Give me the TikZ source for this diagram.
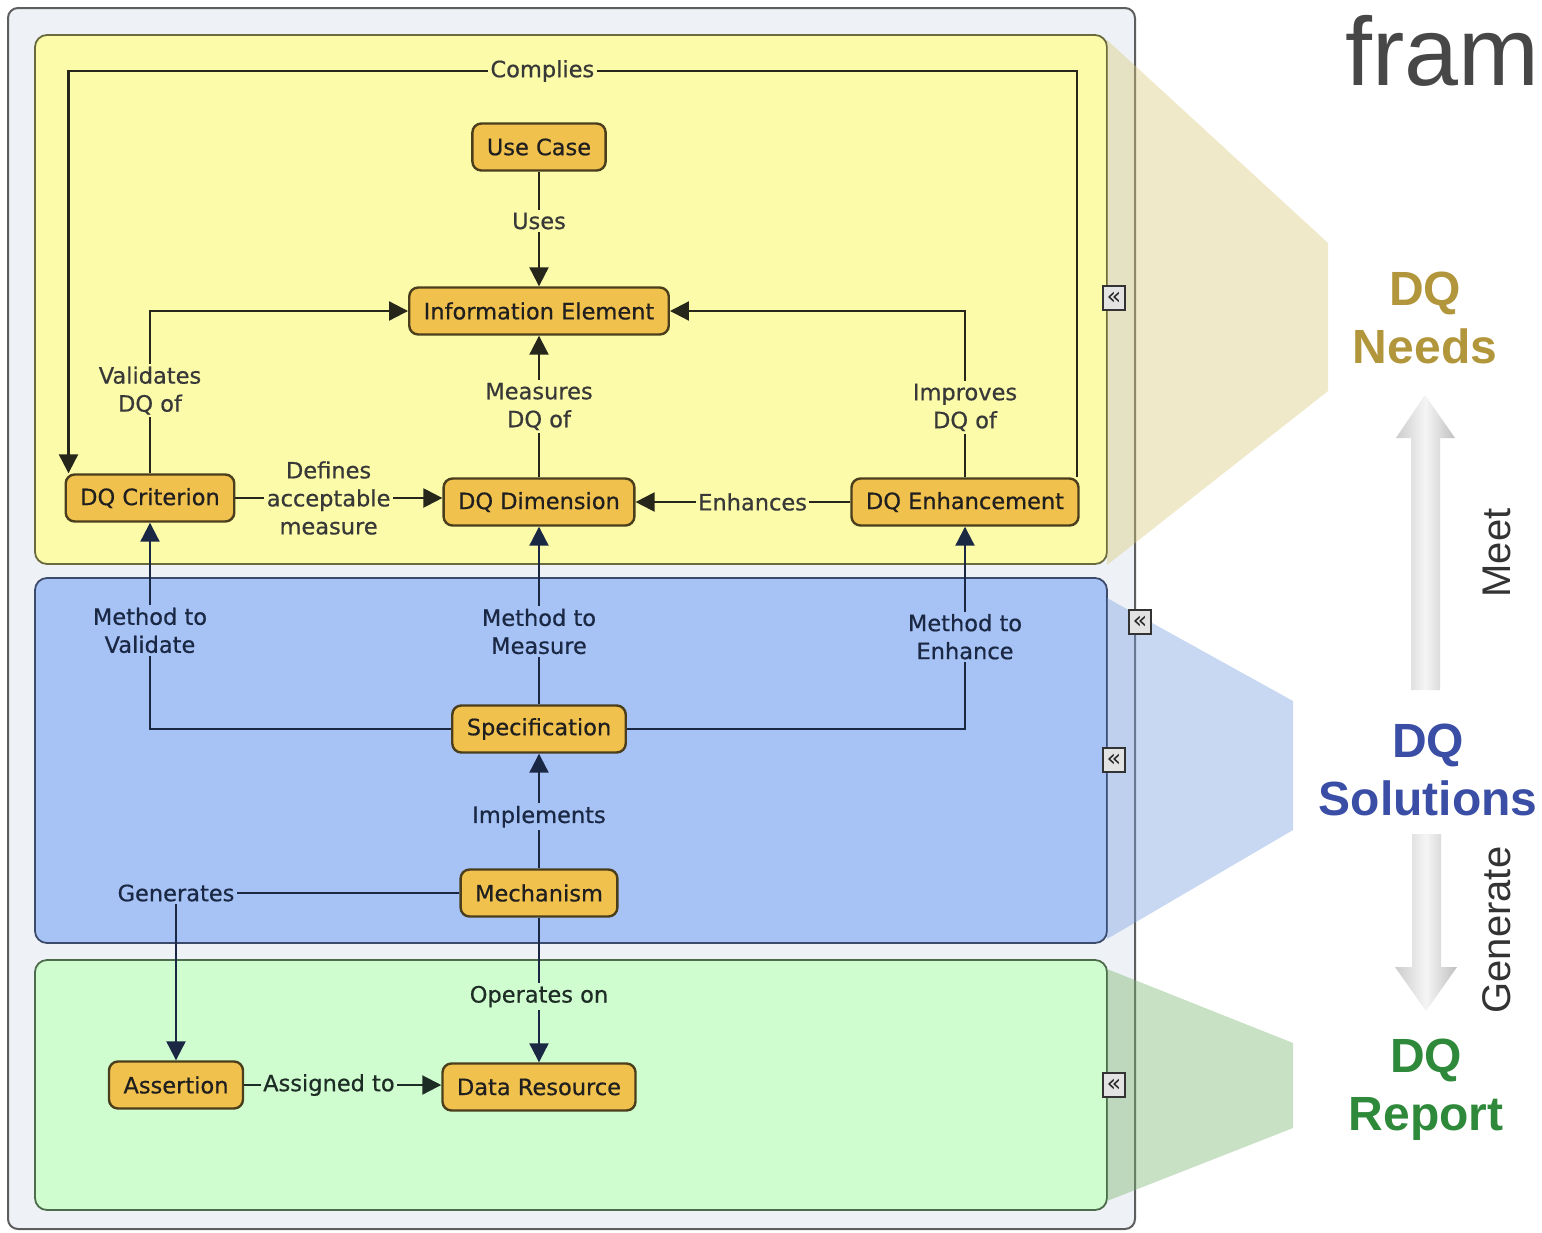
\documentclass[tikz,border=0pt]{standalone}
\usepackage{fontspec}
\setmainfont{DejaVu Sans}
\newfontfamily\arialfont{Liberation Sans}
\usetikzlibrary{arrows.meta,shapes.misc}
\definecolor{frameBg}{HTML}{EEF2F6}
\definecolor{frameLine}{HTML}{5E5E5E}
\definecolor{secY}{HTML}{FBFBAA}
\definecolor{secYline}{HTML}{6A6A3E}
\definecolor{secB}{HTML}{A7C3F6}
\definecolor{secBline}{HTML}{3C4A6C}
\definecolor{secG}{HTML}{D0FDCF}
\definecolor{secGline}{HTML}{4C6C4C}
\definecolor{nodeFill}{HTML}{F1C14E}
\definecolor{nodeLine}{HTML}{4A3E1C}
\definecolor{lineY}{HTML}{26261A}
\definecolor{lineB}{HTML}{1A2844}
\definecolor{lineG}{HTML}{1E2C26}
\definecolor{funY}{HTML}{D8C878}
\definecolor{funB}{HTML}{789EE0}
\definecolor{funG}{HTML}{76B26C}
\definecolor{needs}{HTML}{B2963C}
\definecolor{sols}{HTML}{3A4EA6}
\definecolor{rep}{HTML}{2E8A3A}
\newcommand{\nfont}{\fontsize{22.5}{28}\selectfont\addfontfeature{FakeBold=0.6}}
\begin{document}
\begin{tikzpicture}[x=1pt,y=-1pt,
  box/.style={draw=nodeLine, line width=2.4pt, fill=nodeFill, rounded corners=9pt,
    minimum height=47pt, inner xsep=14.5pt, font=\nfont, text=black!88},
  lab/.style={font=\nfont, align=center, inner sep=2.5pt},
  labY/.style={lab, fill=secY, text=black!78},
  labB/.style={lab, fill=secB, text=lineB},
  labG/.style={lab, fill=secG, text=lineG},
  arr/.style={-{Triangle[length=19pt,width=19pt]}, line width=2.2pt},
  icon/.style={draw=black!80, line width=1.8pt, fill=gray!22, minimum width=22pt,
    minimum height=24pt, inner sep=0pt, font=\fontsize{24}{24}\selectfont, text=black!85},
  bigtag/.style={font=\arialfont\bfseries\fontsize{48}{58}\selectfont, align=center},
  vtag/.style={font=\arialfont\fontsize{40}{40}\selectfont, text=black!80, rotate=90}
]
\useasboundingbox (0,0) rectangle (1542,1232);
\clip (0,0) rectangle (1542,1232);
\fill[white] (0,0) rectangle (1542,1232);

% outer frame
\draw[frameLine, line width=2pt, fill=frameBg, rounded corners=10pt] (8,8) rectangle (1135,1229);

% sections
\draw[secYline, line width=1.8pt, fill=secY, rounded corners=12pt] (35,35) rectangle (1107,564);
\draw[secBline, line width=1.8pt, fill=secB, rounded corners=12pt] (35,578) rectangle (1107,943);
\draw[secGline, line width=1.8pt, fill=secG, rounded corners=12pt] (35,960) rectangle (1107,1210);

% funnels
\fill[funY, fill opacity=0.4] (1107,40) -- (1328,243) -- (1328,391) -- (1107,565) -- cycle;
\fill[funB, fill opacity=0.4] (1107,598) -- (1293,701) -- (1293,830) -- (1107,939) -- cycle;
\fill[funG, fill opacity=0.4] (1107,969) -- (1293,1043) -- (1293,1128) -- (1107,1201) -- cycle;

% icons
\node[icon] (ic1) at (1114,298) {«};
\node[icon] (ic2) at (1140,622) {«};
\node[icon] (ic3) at (1114,760) {«};
\node[icon] (ic4) at (1114,1085) {«};

% nodes
\node[box] (uc)   at (539,147)  {Use Case};
\node[box] (ie)   at (539,311)  {Information Element};
\node[box] (crit) at (150,498)  {DQ Criterion};
\node[box] (dim)  at (539,502)  {DQ Dimension};
\node[box] (enh)  at (965,502)  {DQ Enhancement};
\node[box] (spec) at (539,729)  {Specification};
\node[box] (mech) at (539,893)  {Mechanism};
\node[box] (asrt) at (176,1085) {Assertion};
\node[box] (dr)   at (539,1087) {Data Resource};

% connectors - yellow
\coordinate (ctop) at (0,71);
\draw[arr, lineY] ([xshift=-3pt]enh.north east) -- ([xshift=-3pt]enh.north east |- ctop)
  -- node[labY, pos=0.53]{Complies} ([xshift=4pt]crit.north west |- ctop) -- ([xshift=4pt]crit.north west);
\draw[arr, lineY] (uc) -- node[labY, pos=0.43]{Uses} (ie);
\draw[arr, lineY] (crit.north) |- node[labY, pos=0.255]{Validates\\DQ of} (ie.west);
\draw[arr, lineY] (dim) -- node[labY]{Measures\\DQ of} (ie);
\draw[arr, lineY] (enh.north) |- node[labY, pos=0.21]{Improves\\DQ of} (ie.west -| ie.east);
\draw[arr, lineY] (crit.east) -- node[labY, pos=0.45]{Defines\\acceptable\\measure} (crit.east -| dim.west);
\draw[arr, lineY] (enh.west) -- node[labY, pos=0.455]{Enhances} (enh.west -| dim.east);

% connectors - blue
\draw[arr, lineB] (spec.west) -| node[labB, pos=0.739]{Method to\\Validate} (crit.south);
\draw[arr, lineB] (spec) -- node[labB, pos=0.41]{Method to\\Measure} (dim);
\draw[arr, lineB] (spec.east) -| node[labB, pos=0.728]{Method to\\Enhance} (enh.south);
\draw[arr, lineB] (mech) -- node[labB, pos=0.45]{Implements} (spec);
\draw[arr, lineB] (mech.west) -| node[labB, pos=0.5]{Generates} (asrt.north);
\draw[arr, lineB] (mech) -- node[labG, pos=0.545]{Operates on} (dr);

% connectors - green
\draw[arr, lineG] (asrt.east) -- node[labG, pos=0.43]{Assigned to} (asrt.east -| dr.west);

% right side
\node[font=\arialfont\fontsize{97}{100}\selectfont, text=black!72, anchor=base west, inner sep=0pt] (fram) at (1345,85) {fram};
\node[bigtag, text=needs] (needs) at (1425,318) {DQ\\Needs};
\node[bigtag, text=sols]  (sols)  at (1428,770) {DQ\\Solutions};
\node[bigtag, text=rep]   (rep)   at (1426,1090) {DQ\\Report};

\shade[left color=gray!40, right color=gray!50, middle color=gray!8]
  (1411,690) -- (1411,438) -- (1396,438) -- (1425,395) -- (1455,438) -- (1440,438) -- (1440,690) -- cycle;
\shade[left color=gray!40, right color=gray!50, middle color=gray!8]
  (1412,834) -- (1441,834) -- (1441,967) -- (1457,967) -- (1426,1011) -- (1395,967) -- (1412,967) -- cycle;
\node[vtag] (meet) at (1497,553) {Meet};
\node[vtag] (gen)  at (1497,930) {Generate};
\end{tikzpicture}
\end{document}
